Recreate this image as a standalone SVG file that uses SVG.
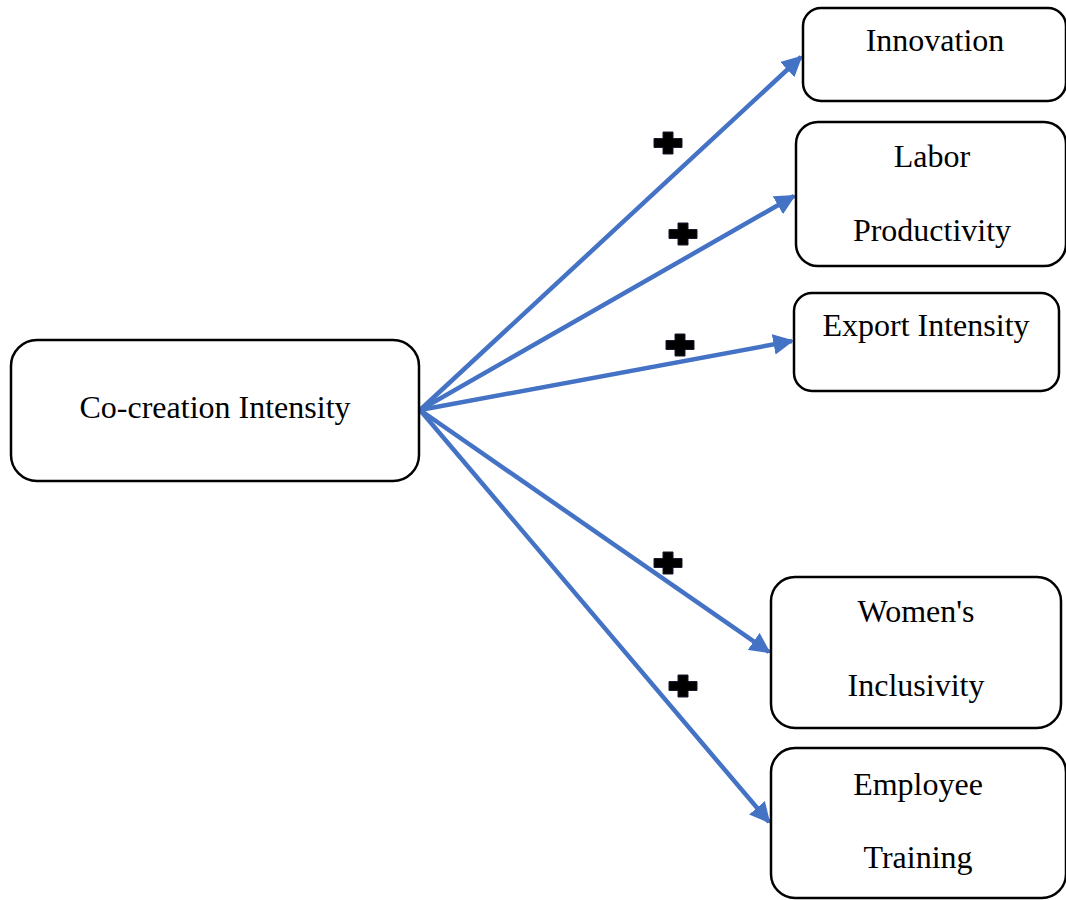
<svg xmlns="http://www.w3.org/2000/svg" width="1066" height="900" viewBox="0 0 1066 900">
<style>
.box{fill:#fff;stroke:#000;stroke-width:2.5}
.lbl{font-family:"Liberation Serif","Times New Roman",serif;font-size:32px;fill:#000;text-anchor:middle}
.conn{stroke:#4472C4;stroke-width:4.5;fill:none;marker-end:url(#ah)}
.plus{fill:#000;stroke:#1a1a2e;stroke-width:1}
</style>
<defs>
<marker id="ah" viewBox="0 0 10 10" refX="9" refY="5" markerWidth="4.6" markerHeight="4.6" orient="auto" markerUnits="strokeWidth">
<path d="M0,0 L10,5 L0,10 z" fill="#4472C4"/>
</marker>
<polygon id="pl" points="-5,-11 5,-11 5,-4.5 14,-4.5 14,4.5 5,4.5 5,11 -5,11 -5,4.5 -14,4.5 -14,-4.5 -5,-4.5"/>
</defs>
<rect width="1066" height="900" fill="#fff"/>
<g id="connectors">
<line class="conn" x1="420" y1="410" x2="801" y2="57"/>
<line class="conn" x1="420" y1="410" x2="794" y2="196"/>
<line class="conn" x1="420" y1="410" x2="792" y2="341"/>
<line class="conn" x1="420" y1="410" x2="769" y2="652"/>
<line class="conn" x1="420" y1="410" x2="769" y2="822"/>
<use href="#pl" class="plus" x="668" y="143"/>
<use href="#pl" class="plus" x="683" y="234"/>
<use href="#pl" class="plus" x="680" y="345"/>
<use href="#pl" class="plus" x="668" y="563"/>
<use href="#pl" class="plus" x="683" y="686"/>
</g>
<g id="cocreation">
<rect class="box" x="11" y="340" width="408" height="141" rx="26"/>
<text class="lbl" x="215" y="418">Co-creation Intensity</text>
</g>
<g id="innovation">
<rect class="box" x="803" y="8" width="263" height="93" rx="18"/>
<text class="lbl" x="935" y="51">Innovation</text>
</g>
<g id="labor">
<rect class="box" x="796" y="122" width="270" height="144" rx="22"/>
<text class="lbl" x="932" y="167">Labor</text>
<text class="lbl" x="932" y="241">Productivity</text>
</g>
<g id="export">
<rect class="box" x="794" y="293" width="265" height="98" rx="18"/>
<text class="lbl" x="926" y="336">Export Intensity</text>
</g>
<g id="women">
<rect class="box" x="771" y="577" width="290" height="151" rx="24"/>
<text class="lbl" x="916" y="622">Women's</text>
<text class="lbl" x="916" y="696">Inclusivity</text>
</g>
<g id="training">
<rect class="box" x="771" y="748" width="295" height="150" rx="24"/>
<text class="lbl" x="918" y="795">Employee</text>
<text class="lbl" x="918" y="868">Training</text>
</g>
</svg>
